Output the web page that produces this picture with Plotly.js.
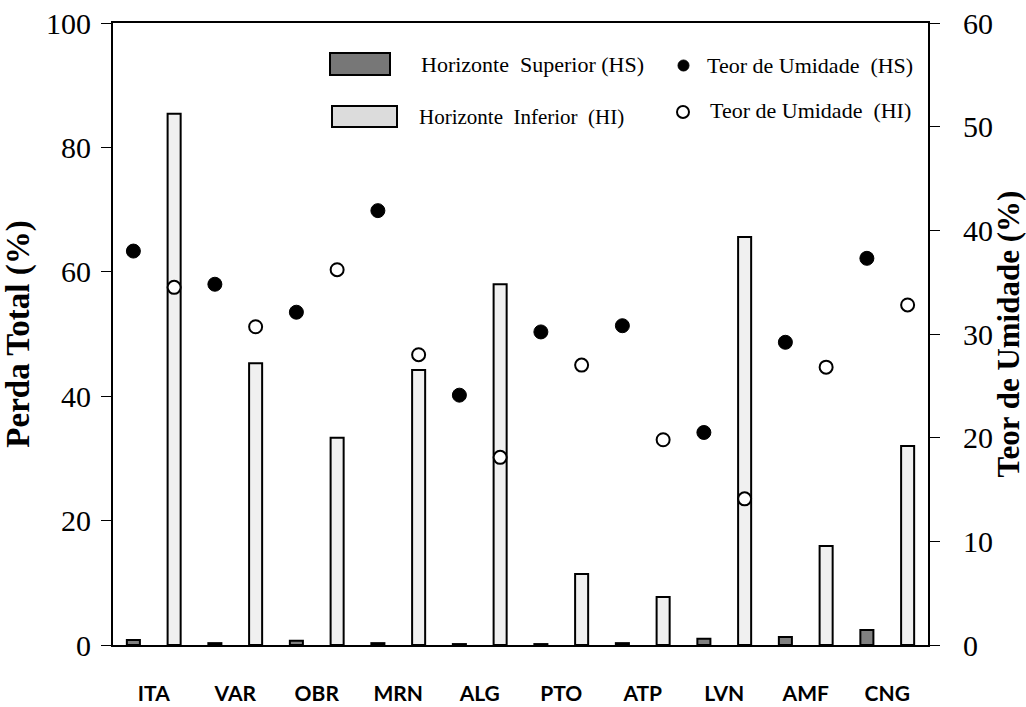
<!DOCTYPE html>
<html>
<head>
<meta charset="utf-8">
<script src="https://cdn.plot.ly/plotly-3.0.1.min.js"></script>
<style>html,body{margin:0;padding:0;background:#fff;}#chart{width:1026px;height:707px;}</style>
</head>
<body>
<div id="chart"></div>
<script>
// ---- data ----
const categories = ["ITA","VAR","OBR","MRN","ALG","PTO","ATP","LVN","AMF","CNG"];
const perdaHS = [0.8, 0.3, 0.7, 0.3, 0.15, 0.15, 0.3, 1.0, 1.3, 2.4];
const perdaHI = [85.4, 45.3, 33.3, 44.2, 58.0, 11.4, 7.7, 65.6, 15.9, 32.0];
const umidadeHS = [38.0, 34.8, 32.1, 41.9, 24.1, 30.2, 30.8, 20.5, 29.2, 37.3];
const umidadeHI = [34.5, 30.7, 36.2, 28.0, 18.1, 27.0, 19.8, 14.1, 26.8, 32.8];
const legendLabels = ["Horizonte  Superior (HS)", "Horizonte  Inferior  (HI)", "Teor de Umidade  (HS)", "Teor de Umidade  (HI)"];

// ---- layout constants ----
const W = 1026, H = 707;
const L = 113, R = 928, T = 23, B = 645;
const idx = categories.map((_, i) => i);
const off = 0.25;
const xs = idx.map(i => i - off), xi = idx.map(i => i + off);
const px = x => (x - L) / (R - L);
const py = y => (B - y) / (B - T);

const traces = [
  {type:'bar', x: xs, y: perdaHS, width: 0.16, name: legendLabels[0],
   marker:{color:'#808080', line:{color:'#000', width:2}}, showlegend:false},
  {type:'bar', x: xi, y: perdaHI, width: 0.16, name: legendLabels[1],
   marker:{color:'#f0f0f0', line:{color:'#000', width:2}}, showlegend:false},
  {type:'scatter', mode:'markers', x: xs, y: umidadeHS, yaxis:'y2', name: legendLabels[2],
   marker:{color:'#000', size:14, line:{color:'#000', width:1}}, showlegend:false},
  {type:'scatter', mode:'markers', x: xi, y: umidadeHI, yaxis:'y2', name: legendLabels[3],
   marker:{color:'#fff', size:13, line:{color:'#000', width:2}}, showlegend:false}
];

const serif = 'Liberation Serif, Times New Roman, serif';
const layout = {
  width: W, height: H,
  margin: {l: L, r: W - R, t: T, b: H - B, pad: 0},
  paper_bgcolor:'#fff', plot_bgcolor:'#fff',
  barmode:'overlay',
  showlegend:false,
  xaxis: {range:[-0.5, 9.5], tickvals: idx, ticktext: categories, showgrid:false, zeroline:false,
          showline:true, linecolor:'#000', linewidth:2, mirror:true, ticks:'',
          ticklabelstandoff: 29,
          tickfont:{family:'Lato, Calibri, sans-serif', size:21, color:'#000', weight:'bold'}},
  yaxis: {range:[0,100], dtick:20, showgrid:false, zeroline:false, showline:true, linecolor:'#000', linewidth:2,
          ticks:'outside', ticklen:10, tickwidth:1, tickcolor:'#000',
          tickfont:{family:serif, size:30, color:'#000'}, ticklabelstandoff: 4,
          title:{text:'<b>Perda Total (%)</b>', font:{family:serif, size:33, color:'#000'}, standoff: 6}},
  yaxis2: {range:[0,60], dtick:10, overlaying:'y', side:'right', showgrid:false, zeroline:false,
          showline:true, linecolor:'#000', linewidth:2,
          ticks:'outside', ticklen:10, tickwidth:1, tickcolor:'#000',
          tickfont:{family:serif, size:30, color:'#000'}, ticklabelstandoff: 17,
          title:{text:'<b>Teor de Umidade (%)</b>', font:{family:serif, size:31, color:'#000'}, standoff: 10}},
  shapes: [
    {type:'rect', xref:'paper', yref:'paper', x0:px(330), x1:px(390), y0:py(75), y1:py(53),
     fillcolor:'#777', line:{color:'#000', width:2}},
    {type:'rect', xref:'paper', yref:'paper', x0:px(332), x1:px(397), y0:py(127), y1:py(106),
     fillcolor:'#dcdcdc', line:{color:'#000', width:2}},
    {type:'circle', xref:'paper', yref:'paper', x0:px(678), x1:px(689), y0:py(71), y1:py(60),
     fillcolor:'#000', line:{color:'#000', width:1}},
    {type:'circle', xref:'paper', yref:'paper', x0:px(677), x1:px(689), y0:py(118), y1:py(106),
     fillcolor:'#fff', line:{color:'#000', width:2}}
  ],
  annotations: [
    {xref:'paper', yref:'paper', x:px(419), y:py(64), xanchor:'left', yanchor:'middle', showarrow:false,
     text:legendLabels[0], font:{family:serif, size:22, color:'#000'}},
    {xref:'paper', yref:'paper', x:px(417), y:py(117), xanchor:'left', yanchor:'middle', showarrow:false,
     text:legendLabels[1], font:{family:serif, size:21, color:'#000'}},
    {xref:'paper', yref:'paper', x:px(705), y:py(65), xanchor:'left', yanchor:'middle', showarrow:false,
     text:legendLabels[2], font:{family:serif, size:22, color:'#000'}},
    {xref:'paper', yref:'paper', x:px(708), y:py(110), xanchor:'left', yanchor:'middle', showarrow:false,
     text:legendLabels[3], font:{family:serif, size:22, color:'#000'}}
  ]
};

Plotly.newPlot('chart', traces, layout, {displayModeBar:false, staticPlot:true});
</script>
</body>
</html>
